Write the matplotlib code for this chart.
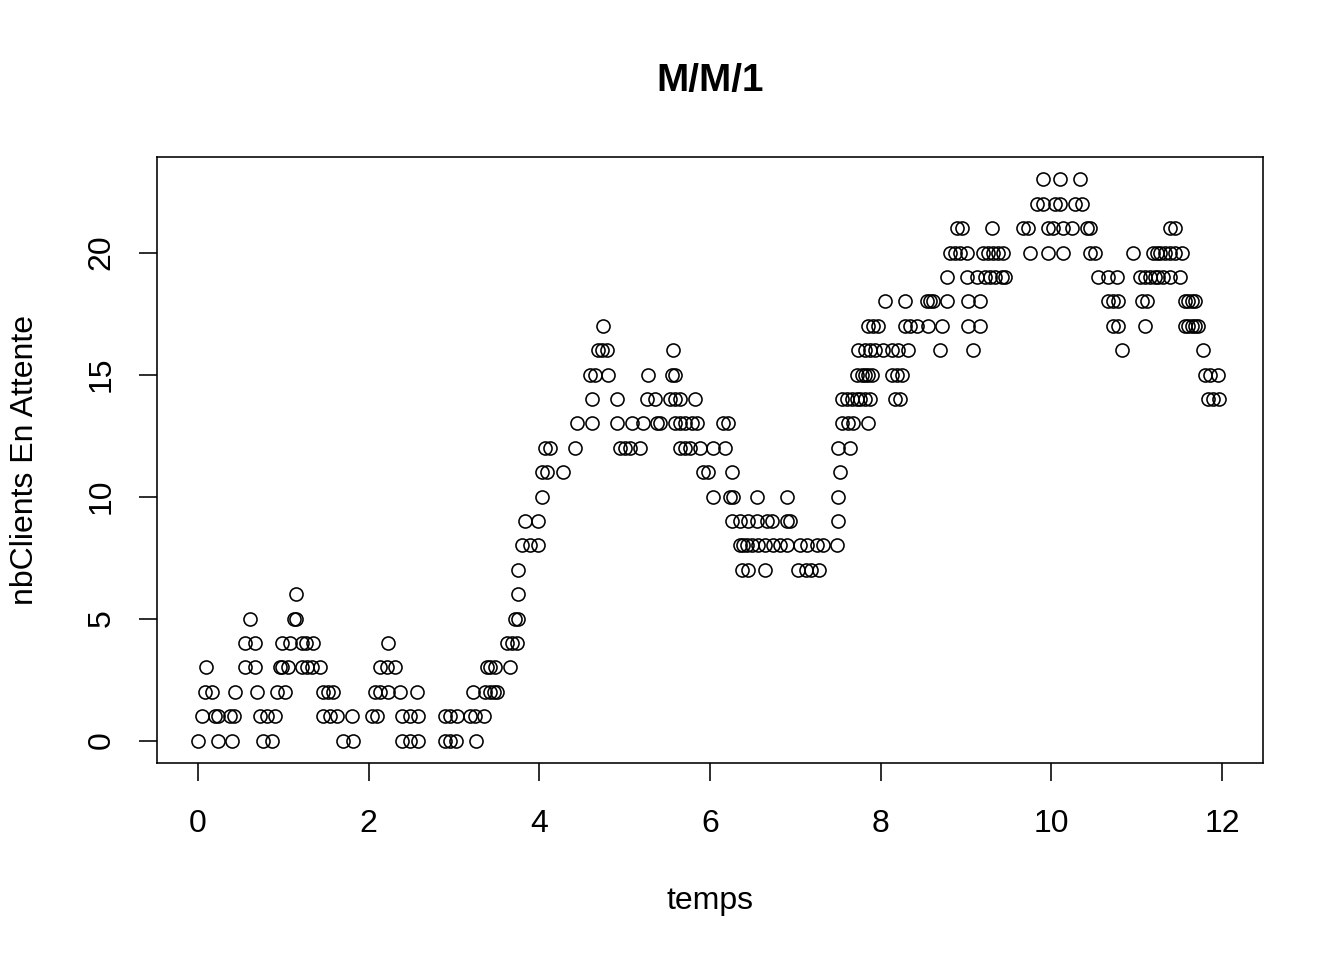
import matplotlib

matplotlib.use("Agg")
import matplotlib.pyplot as plt

plt.rcParams["font.family"] = ["Liberation Sans", "DejaVu Sans"]

# temps des evenements, groupes par nombre de clients en attente
niveau_0 = [0.00, 0.23, 0.40, 0.76, 0.87, 1.70, 1.82, 2.39, 2.48, 2.58, 2.89, 2.95, 3.02, 3.26]
niveau_1 = [0.05, 0.20, 0.23, 0.38, 0.42, 0.73, 0.81, 0.90, 1.46, 1.55, 1.63, 1.80, 2.04, 2.10,
            2.39, 2.48, 2.58, 2.89, 2.95, 3.04, 3.19, 3.25, 3.35]
niveau_2 = [0.08, 0.16, 0.43, 0.69, 0.93, 1.02, 1.46, 1.52, 1.58, 2.07, 2.13, 2.23, 2.37, 2.57,
            3.22, 3.36, 3.42, 3.47, 3.50]
niveau_3 = [0.09, 0.55, 0.67, 0.96, 0.99, 1.05, 1.22, 1.28, 1.34, 1.43, 2.13, 2.21, 2.31,
            3.39, 3.42, 3.48, 3.66]
niveau_4 = [0.55, 0.67, 0.98, 1.08, 1.22, 1.27, 1.35, 2.23, 3.62, 3.68, 3.74]
niveau_5 = [0.61, 1.12, 1.15, 3.72, 3.75]
niveau_6 = [1.15, 3.75]
niveau_7 = [3.75, 6.38, 6.44, 6.65, 7.03, 7.12, 7.18, 7.28]
niveau_8 = [3.80, 3.89, 3.98, 6.35, 6.39, 6.43, 6.49, 6.56, 6.64, 6.74, 6.82, 6.90,
            7.05, 7.14, 7.25, 7.32, 7.49]
niveau_9 = [3.83, 3.98, 6.26, 6.35, 6.45, 6.55, 6.67, 6.73, 6.90, 6.94, 7.50]
niveau_10 = [4.03, 6.04, 6.23, 6.27, 6.55, 6.90, 7.50]
niveau_11 = [4.03, 4.09, 4.28, 5.92, 5.98, 6.26, 7.52]
niveau_12 = [4.07, 4.13, 4.42, 4.95, 5.00, 5.06, 5.18, 5.65, 5.71, 5.77, 5.88, 6.04, 6.18,
             7.50, 7.64]
niveau_13 = [4.44, 4.62, 4.91, 5.09, 5.22, 5.38, 5.41, 5.59, 5.65, 5.71, 5.79, 5.85,
             6.15, 6.21, 7.55, 7.62, 7.68, 7.85]
niveau_14 = [4.62, 4.91, 5.26, 5.36, 5.53, 5.59, 5.65, 5.82, 7.55, 7.61, 7.66, 7.72,
             7.76, 7.82, 7.88, 8.17, 8.23, 11.83, 11.89, 11.97]
niveau_15 = [4.59, 4.65, 4.80, 5.27, 5.55, 5.59, 7.72, 7.78, 7.82, 7.85, 7.90, 8.13,
             8.19, 8.25, 11.80, 11.86, 11.95]
niveau_16 = [4.69, 4.73, 4.79, 5.57, 7.73, 7.82, 7.88, 7.93, 8.03, 8.13, 8.20, 8.32,
             8.70, 9.08, 10.83, 11.78]
niveau_17 = [4.75, 7.85, 7.91, 7.97, 8.29, 8.34, 8.43, 8.55, 8.72, 9.02, 9.16,
             10.72, 10.78, 11.10, 11.57, 11.60, 11.65, 11.68, 11.72]
niveau_18 = [8.05, 8.29, 8.54, 8.58, 8.61, 8.78, 9.02, 9.16, 10.66, 10.72, 10.78,
             11.06, 11.12, 11.57, 11.60, 11.65, 11.68]
niveau_19 = [8.78, 9.01, 9.13, 9.22, 9.28, 9.34, 9.42, 9.46, 10.55, 10.66, 10.77,
             11.04, 11.10, 11.16, 11.22, 11.25, 11.31, 11.39, 11.51]
niveau_20 = [8.81, 8.87, 8.93, 9.01, 9.20, 9.26, 9.32, 9.38, 9.43, 9.75, 9.96, 10.14,
             10.45, 10.51, 10.96, 11.19, 11.24, 11.27, 11.33, 11.39, 11.45, 11.53]
niveau_21 = [8.89, 8.95, 9.30, 9.67, 9.73, 9.96, 10.02, 10.14, 10.24, 10.42, 10.45,
             11.39, 11.45]
niveau_22 = [9.83, 9.90, 10.04, 10.10, 10.28, 10.36]
niveau_23 = [9.90, 10.10, 10.34]

niveaux = [
    niveau_0, niveau_1, niveau_2, niveau_3, niveau_4, niveau_5, niveau_6, niveau_7,
    niveau_8, niveau_9, niveau_10, niveau_11, niveau_12, niveau_13, niveau_14,
    niveau_15, niveau_16, niveau_17, niveau_18, niveau_19, niveau_20, niveau_21,
    niveau_22, niveau_23,
]

temps = []
nb_clients = []
for n, ts in enumerate(niveaux):
    temps.extend(ts)
    nb_clients.extend([n] * len(ts))

x_ticks = [0, 2, 4, 6, 8, 10, 12]
y_ticks = [0, 5, 10, 15, 20]

W, H = 1344, 960
fig = plt.figure(figsize=(W / 96, H / 96), dpi=96)
ax = fig.add_axes([157 / W, 1 - 763 / H, (1263 - 157) / W, (763 - 157) / H])

ax.plot(
    temps,
    nb_clients,
    linestyle="none",
    marker="o",
    markersize=9.8,
    markerfacecolor="none",
    markeredgecolor="black",
    markeredgewidth=1.2,
)

ax.set_xlim(-0.48, 12.48)
ax.set_ylim(-0.92, 23.92)
ax.set_xticks(x_ticks)
ax.set_yticks(y_ticks)
ax.set_xticklabels([str(v) for v in x_ticks], fontsize=24)
ax.set_yticklabels([str(v) for v in y_ticks], fontsize=24, rotation=90, va="center")
ax.tick_params(axis="both", direction="out", length=13.5, width=1.2, color="black")
ax.tick_params(axis="x", pad=21)
ax.tick_params(axis="y", pad=17)
for s in ax.spines.values():
    s.set_linewidth(1.2)

fig.text(710 / W, 1 - 81 / H, "M/M/1", ha="center", va="center",
         fontsize=29, fontweight="bold")
fig.text(710 / W, 1 - 901 / H, "temps", ha="center", va="center", fontsize=24)
fig.text(25 / W, 1 - 460 / H, "nbClients En Attente", ha="center", va="center",
         rotation=90, fontsize=24)

fig.savefig("out.png", dpi=96, facecolor="white")
